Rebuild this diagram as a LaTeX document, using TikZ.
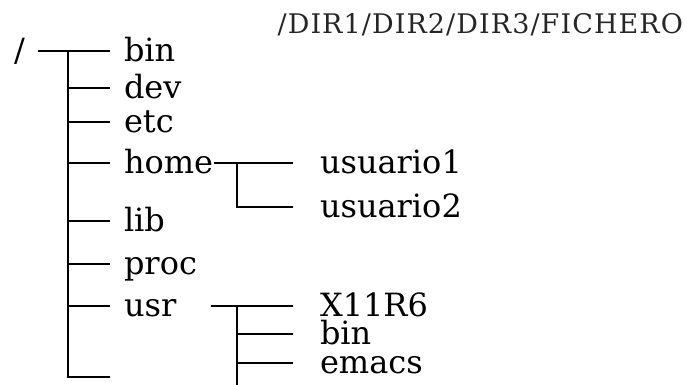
\documentclass[tikz,border=0pt]{standalone}
\usepackage{fontspec}
\newfontfamily\dirfont{DejaVu Serif}
\tikzset{
  dirname/.style={anchor=west, inner xsep=6.5pt, inner ysep=0pt, text height=12pt, text depth=1pt, font=\dirfont\fontsize{16}{16}\selectfont},
  subname/.style={dirname, inner xsep=13pt},
}
\begin{document}
\begin{tikzpicture}[x=0.5pt,y=-0.5pt,line width=1pt]
    \useasboundingbox (0,0) rectangle (687,385);
    % ruta de ejemplo
    \node[anchor=east, inner sep=0pt, text=black!85, font=\dirfont\fontsize{13.5}{13.5}\selectfont\addfontfeature{LetterSpace=4}] (ruta) at (684,25) {/DIR1/DIR2/DIR3/FICHERO};
    % raiz y tronco
    \node[dirname, anchor=east, inner xsep=6pt] (root) at (38,51) {/};
    \coordinate (top) at (68,51);
    \coordinate (bottom) at (68,377);
    \coordinate (blank) at (110,377);
    \foreach \name/\y in {bin/51, dev/88, etc/122, home/163, lib/221, proc/264, usr/306} {
        \node[dirname] (\name) at (110,\y) {\name};
        \coordinate (t\name) at (68,\y);
        \draw (t\name) -- (\name);
    }
    \draw (root) -- (top);
    \draw (top) -- (bottom) -- (blank);
    % home
    \node[subname] (usuario1) at (293,163) {usuario1};
    \node[subname] (usuario2) at (293,207) {usuario2};
    \coordinate (hsplit) at (237,163);
    \draw[shorten <=-6.5pt] (home) -- (usuario1);
    \draw (hsplit) |- (usuario2);
    % usr
    \node[subname] (x11) at (293,306) {X11R6};
    \node[subname] (usrbin) at (293,334) {bin};
    \node[subname] (emacs) at (293,363) {emacs};
    \coordinate (usplit) at (237,306);
    \coordinate (uend) at (237,385);
    \draw[shorten <=10.5pt] (usr) -- (x11);
    \draw (usplit) -- (uend);
    \foreach \name in {usrbin, emacs} {
        \draw (usplit |- \name) -- (\name);
    }
\end{tikzpicture}
\end{document}
